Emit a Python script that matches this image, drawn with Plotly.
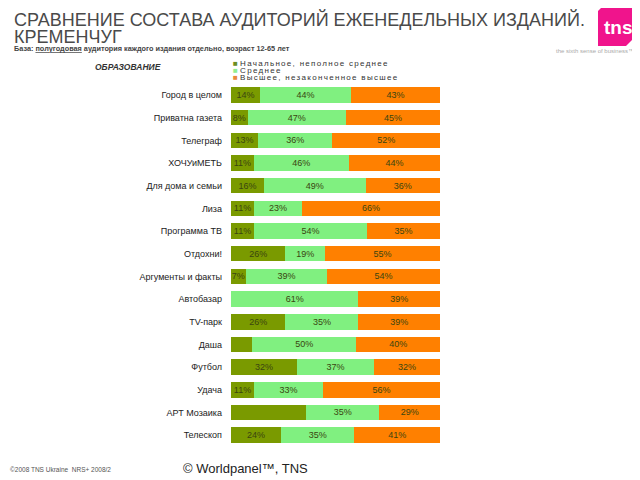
import plotly.graph_objects as go

categories = ["Город в целом", "Приватна газета", "Телеграф", "ХОЧУиМЕТЬ", "Для дома и семьи",
              "Лиза", "Программа ТВ", "Отдохни!", "Аргументы и факты", "Автобазар", "TV-парк",
              "Даша", "Футбол", "Удача", "АРТ Мозаика", "Телескоп"]
series_names = ["Начальное, неполное среднее", "Среднее", "Высшее, незаконченное высшее"]
primary = [14, 8, 13, 11, 16, 11, 11, 26, 7, 0, 26, 10, 32, 11, 36, 24]
secondary = [44, 47, 36, 46, 49, 23, 54, 19, 39, 61, 35, 50, 37, 33, 35, 35]
higher = [43, 45, 52, 44, 36, 66, 35, 55, 54, 39, 39, 40, 32, 56, 29, 41]
primary_labels = ["14%", "8%", "13%", "11%", "16%", "11%", "11%", "26%", "7%", "", "26%", "", "32%", "11%", "", "24%"]
secondary_labels = [f"{v}%" for v in secondary]
higher_labels = [f"{v}%" for v in higher]

bar_colors = ["#7a9a00", "#80f080", "#ff8000"]
legend_colors = ["#6b8e23", "#90ee90", "#e9893a"]

# page has an 8px body margin; figure is placed at (8, 8)
OFF = 8
W, H = 632, 472
def px(x): return (x - OFF) / W
def py(y): return 1 - (y - OFF) / H

fig = go.Figure()
for vals, labels, name, col in zip([primary, secondary, higher],
                                    [primary_labels, secondary_labels, higher_labels],
                                    series_names, bar_colors):
    fig.add_trace(go.Bar(
        y=categories, x=vals, name=name, orientation="h",
        marker=dict(color=col, line=dict(width=0)),
        text=labels, textposition="inside", insidetextanchor="middle",
        textangle=0, constraintext="none",
        textfont=dict(family="Liberation Sans", size=9, color="#3a4510"),
        hoverinfo="skip", showlegend=False,
    ))

fig.update_layout(
    width=W, height=H, barmode="stack", barnorm="percent", bargap=0.32,
    margin=dict(l=0, r=0, t=0, b=0),
    paper_bgcolor="white", plot_bgcolor="white",
    xaxis=dict(domain=[px(231), px(440)], range=[0, 100], visible=False, fixedrange=True),
    yaxis=dict(domain=[py(446.5), py(83.7)], autorange="reversed", showgrid=False,
               showline=False, ticks="", ticklabelstandoff=8,
               tickfont=dict(family="Liberation Sans", size=9, color="#222")),
)

ann = []
ann.append(dict(x=px(12), y=py(19.5), xanchor="left", yanchor="middle",
                text="СРАВНЕНИЕ СОСТАВА АУДИТОРИЙ ЕЖЕНЕДЕЛЬНЫХ ИЗДАНИЙ.",
                font=dict(family="Liberation Sans", size=18, color="#4a4a4a")))
ann.append(dict(x=px(12), y=py(36.5), xanchor="left", yanchor="middle",
                text="КРЕМЕНЧУГ",
                font=dict(family="Liberation Sans", size=18, color="#4a4a4a")))
ann.append(dict(x=px(12), y=py(49), xanchor="left", yanchor="middle",
                text="<b>База: <u>полугодовая</u> аудитория каждого издания отдельно, возраст 12-65 лет</b>",
                font=dict(family="Liberation Sans", size=7.3, color="#444444")))
ann.append(dict(x=px(93), y=py(67), xanchor="left", yanchor="middle",
                text="<b><i>ОБРАЗОВАНИЕ</i></b>",
                font=dict(family="Liberation Sans", size=8.5, color="#333333")))
for i, (name, col) in enumerate(zip(series_names, legend_colors)):
    ann.append(dict(x=px(231), y=py(63 + i * 7.2), xanchor="left", yanchor="middle",
                    text=f"<span style='color:{col}'>■</span> <span style='letter-spacing:1.3px'>{name}</span>",
                    font=dict(family="Liberation Sans", size=8, color="#333333")))
ann.append(dict(x=px(8), y=py(469), xanchor="left", yanchor="middle",
                text="©2008 TNS Ukraine  NRS+ 2008/2",
                font=dict(family="Liberation Sans", size=6.5, color="#555555")))
ann.append(dict(x=px(245), y=py(468), xanchor="center", yanchor="middle",
                text="© Worldpanel™, TNS",
                font=dict(family="Liberation Sans", size=13, color="#222222")))
ann.append(dict(x=px(618), y=py(27), xanchor="center", yanchor="middle",
                text="<b>tns</b>", font=dict(family="Liberation Sans", size=19, color="white")))
ann.append(dict(x=px(636), y=py(51), xanchor="right", yanchor="middle",
                text="the sixth sense of business™",
                font=dict(family="Liberation Sans", size=6, color="#aaaaaa")))
fig.update_layout(annotations=[dict(a, xref="paper", yref="paper", showarrow=False) for a in ann])

fig.add_shape(type="path", xref="paper", yref="paper",
              path=f"M {px(606)} {py(3)} L {px(634)} {py(3)} L {px(634)} {py(38)} L {px(626)} {py(46)} L {px(598)} {py(46)} L {px(598)} {py(11)} Z",
              fillcolor="#f0148c", line=dict(width=0))

fig.write_html("out.html")
